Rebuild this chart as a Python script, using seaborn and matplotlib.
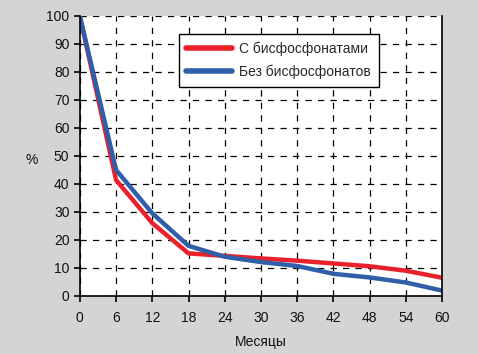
import pandas as pd
import numpy as np
from matplotlib import pyplot as plt
import seaborn as sns

# Data
months = [0, 6, 12, 18, 24, 30, 36, 42, 48, 54, 60]
with_bisph = [100, 41.4, 26, 15.2, 14.3, 13.4, 12.6, 11.6, 10.6, 9.0, 6.5]
without_bisph = [100, 45, 29.5, 17.9, 14.0, 12.1, 10.7, 7.9, 6.6, 4.8, 1.9]
series_names = ['С бисфосфонатами', 'Без бисфосфонатов']
y_ticks = list(range(0, 101, 10))

df = pd.DataFrame({
    'Месяцы': months * 2,
    '%': with_bisph + without_bisph,
    'series': [series_names[0]] * len(months) + [series_names[1]] * len(months),
})

sns.set_theme(style='white')
plt.rcParams['font.family'] = ['Liberation Sans', 'DejaVu Sans']

fig = plt.figure(figsize=(4.78, 3.54), dpi=100)
fig.patch.set_facecolor('#d4d4d6')
ax = fig.add_axes([0.167, 0.164, 0.758, 0.791])
ax.set_facecolor('white')

sns.lineplot(data=df, x='Месяцы', y='%', hue='series', hue_order=series_names,
             palette=['#e8212b', '#2f5fa8'], linewidth=3.2, ax=ax)

ax.set_xlim(0, 60)
ax.set_ylim(0, 100)
ax.set_xticks(months)
ax.set_yticks(y_ticks)
ax.grid(True, color='black', linestyle=(0, (5, 5)), linewidth=0.9)
for s in ['left', 'bottom', 'right']:
    ax.spines[s].set_visible(True)
    ax.spines[s].set_color('black')
    ax.spines[s].set_linewidth(1.2)
ax.spines['top'].set_visible(False)
ax.tick_params(axis='both', which='major', direction='out', length=4, width=1.2,
               color='black', labelsize=10, labelcolor='#111111', bottom=True, left=True)
ax.tick_params(axis='x', pad=7)

ax.set_xlabel('Месяцы', fontsize=10, color='#111111', labelpad=7)
ax.set_ylabel('%', fontsize=10, color='#111111', rotation=0)
ax.yaxis.set_label_coords(-0.133, 0.46)

leg = ax.legend(loc='upper left', bbox_to_anchor=(0.273, 0.935), frameon=True,
                fancybox=False, fontsize=10, handlelength=3.3, borderpad=0.55,
                labelspacing=0.6, handletextpad=0.5, borderaxespad=0)
leg.get_frame().set_edgecolor('black')
leg.get_frame().set_linewidth(1.0)
leg.get_frame().set_alpha(1)
for line in leg.get_lines():
    line.set_linewidth(4)

fig.savefig('out.png', dpi=100, facecolor=fig.get_facecolor())
